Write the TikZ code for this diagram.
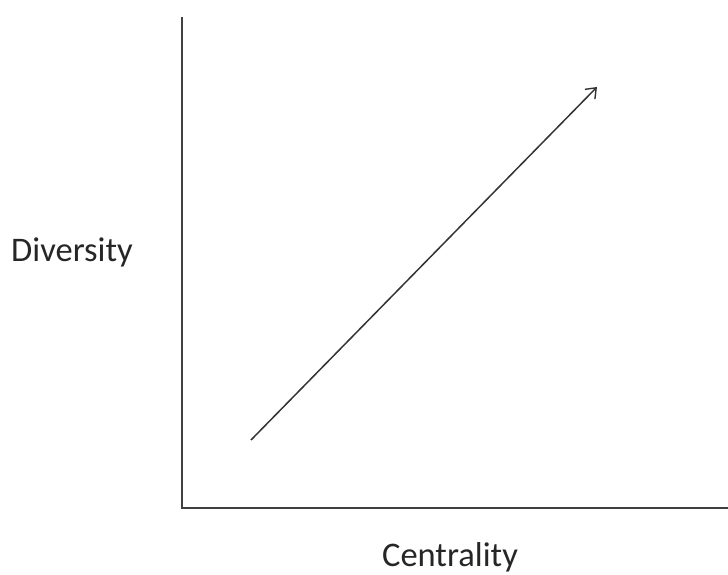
\documentclass[tikz,border=0pt]{standalone}
\usepackage{fontspec}
\setmainfont{Carlito}
\usetikzlibrary{arrows.meta}
\tikzset{
  axis/.style={draw=black!75, line width=2.2pt},
  trend/.style={draw=black!80, line width=1.5pt, -{Straight Barb[length=9pt,width=14pt,line width=1.4pt]}},
  lbl/.style={font=\fontsize{34.5}{38}\selectfont, text=black!85, inner sep=0pt}
}
\begin{document}
\begin{tikzpicture}[x=1pt,y=-1pt]
\useasboundingbox (0,0) rectangle (728,575);
\coordinate (top) at (182,17);
\coordinate (origin) at (182,508);
\coordinate (right) at (728,508);
\coordinate (start) at (251,440);
\coordinate (end) at (597,87);
\draw[axis] (top) -- (origin) -- (right);
\draw[trend] (start) -- (end);
\node[lbl] (ylab) at (72,252) {Diversity};
\node[lbl] (xlab) at (450,557) {Centrality};
\end{tikzpicture}
\end{document}
